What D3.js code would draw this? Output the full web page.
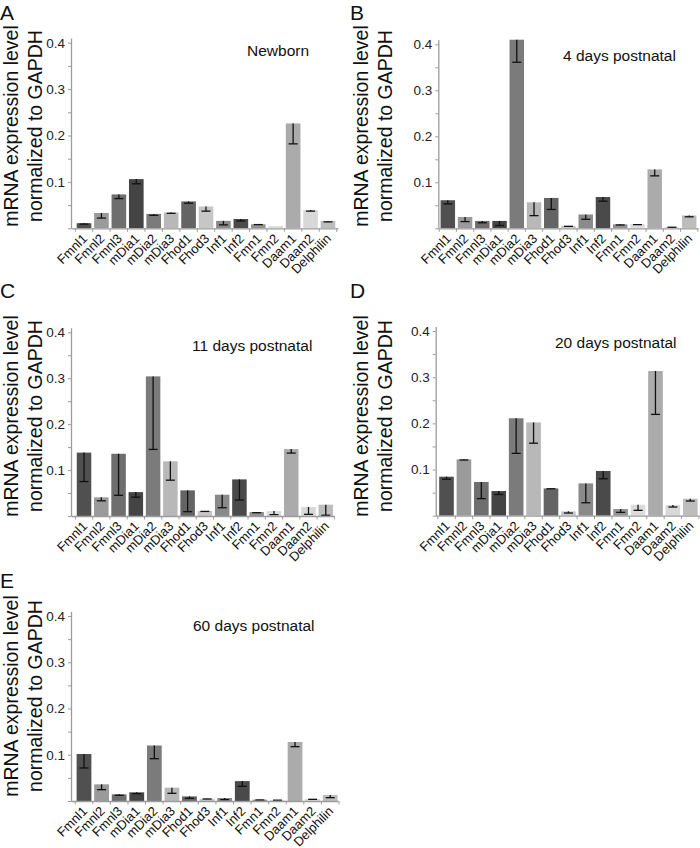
<!DOCTYPE html>
<html>
<head>
<meta charset="utf-8">
<script src="https://cdn.jsdelivr.net/npm/d3@7"></script>
<style>
  html, body { margin: 0; padding: 0; background: #fff; }
  svg { display: block; font-family: "Liberation Sans", Arial, sans-serif; }
</style>
</head>
<body>
<svg id="chart" width="700" height="848"></svg>
<script>
// ---------------- DATA ----------------
const categories = ["Fmnl1","Fmnl2","Fmnl3","mDia1","mDia2","mDia3","Fhod1","Fhod3","Inf1","Inf2","Fmn1","Fmn2","Daam1","Daam2","Delphilin"];

const panelLetters = ["A","B","C","D","E"];
const panelTitles = ["Newborn","4 days postnatal","11 days postnatal","20 days postnatal","60 days postnatal"];

const newbornValues = [0.011,0.033,0.073,0.106,0.031,0.034,0.058,0.047,0.016,0.020,0.0086,0.005,0.226,0.0395,0.016];
const newbornErrors = [0.002,0.011,0.009,0.010,0.003,0.0017,0.004,0.010,0.0086,0.0042,0.0006,0,0.044,0.0025,0.0022];

const day4Values = [0.061,0.0246,0.016,0.016,0.41,0.0565,0.066,0.005,0.030,0.068,0.0087,0.0094,0.128,0.003,0.028];
const day4Errors = [0.008,0.010,0.004,0.010,0.049,0.029,0.025,0.0007,0.0104,0.009,0.0015,0.0014,0.014,0.0007,0.003];

const day11Values = [0.138,0.0406,0.1355,0.052,0.304,0.119,0.0558,0.0109,0.0464,0.0797,0.0087,0.0109,0.1457,0.0196,0.0246];
const day11Errors = [0.063,0.0076,0.0905,0.011,0.159,0.041,0.0464,0.0009,0.0284,0.0449,0.0015,0.0079,0.0087,0.016,0.023];

const day20Values = [0.0845,0.122,0.073,0.0534,0.211,0.202,0.059,0.0094,0.070,0.0968,0.0144,0.0238,0.3134,0.023,0.0368];
const day20Errors = [0.0055,0.0014,0.036,0.0074,0.076,0.045,0.0007,0.0036,0.042,0.0168,0.0072,0.0122,0.094,0.0042,0.005];

const day60Values = [0.1016,0.036,0.0144,0.0187,0.120,0.0288,0.010,0.005,0.0065,0.043,0.0029,0.0022,0.1276,0.0043,0.013];
const day60Errors = [0.0302,0.0115,0.0021,0.0028,0.0285,0.0122,0.0042,0.0007,0.0036,0.0113,0.0007,0.0004,0.0101,0.0007,0.0058];

const majorTicks = [0.1,0.2,0.3,0.4];
const tickLabels = ["0.1","0.2","0.3","0.4"];
const minorTicks = [0,0.05,0.15,0.25,0.35];

const yLabelLines = ["mRNA expression level","normalized to GAPDH"];

// ---------------- STYLE / LAYOUT ----------------
const barColors = ["#505050","#9a9a9a","#6e6e6e","#444444","#7b7b7b","#b8b8b8","#646464","#c6c6c6","#8a8a8a","#4a4a4a","#929292","#dcdcdc","#ababab","#d8d8d8","#bdbdbd"];

const layout = [
  {ox:0,   oy:0,   left:71,    right:338, bandL:75.3,  bandR:336.7, y0:228.3, y4:42.7,  titleX:247, titleY:56,  letterY:20},
  {ox:350, oy:0,   left:438.3, right:698, bandL:439.2, bandR:697.8, y0:228.3, y4:44.3,  titleX:563, titleY:61,  letterY:20},
  {ox:0,   oy:290, left:71,    right:334, bandL:75.4,  bandR:334.4, y0:516,   y4:332.3, titleX:192, titleY:351, letterY:298},
  {ox:350, oy:290, left:435.7, right:699, bandL:437.8, bandR:699,   y0:515.7, y4:331,   titleX:555, titleY:348, letterY:298},
  {ox:0,   oy:570, left:71,    right:338, bandL:75.2,  bandR:339,   y0:801,   y4:616,   titleX:193, titleY:631, letterY:588}
];

const seriesValues = [newbornValues, day4Values, day11Values, day20Values, day60Values];
const seriesErrors = [newbornErrors, day4Errors, day11Errors, day20Errors, day60Errors];

const svg = d3.select("#chart");
const axisColor = "#9c9c9c";

panelTitles.forEach((title, p) => {
  const L = layout[p];
  const vals = seriesValues[p];
  const errs = seriesErrors[p];
  const g = svg.append("g");

  const topVal = 0.41;
  const y = d3.scaleLinear().domain([0, 0.4]).range([L.y0, L.y4]);
  const yAxisScale = d3.scaleLinear().domain([0, topVal]).range([L.y0, y(topVal)]);
  const x = d3.scaleBand().domain(categories).range([L.bandL, L.bandR]).paddingInner(0.16).paddingOuter(0.08);

  // bars
  g.selectAll("rect.bar")
    .data(categories)
    .join("rect")
    .attr("class","bar")
    .attr("x", d => x(d))
    .attr("width", x.bandwidth())
    .attr("y", (d,i) => y(Math.min(vals[i], topVal)))
    .attr("height", (d,i) => y(0) - y(Math.min(vals[i], topVal)))
    .attr("fill", (d,i) => barColors[i]);

  // error bars (downward)
  const eb = g.selectAll("g.err")
    .data(categories)
    .join("g")
    .attr("class","err");
  eb.filter((d,i) => errs[i] > 0).append("line")
    .attr("x1", d => x(d) + x.bandwidth()/2)
    .attr("x2", d => x(d) + x.bandwidth()/2)
    .attr("y1", (d) => { const i = categories.indexOf(d); return y(Math.min(vals[i], topVal)); })
    .attr("y2", (d) => { const i = categories.indexOf(d); return y(vals[i] - errs[i]); })
    .attr("stroke","#111").attr("stroke-width",1.3);
  eb.filter((d,i) => errs[i] > 0).append("line")
    .attr("x1", d => x(d) + x.bandwidth()/2 - 4.5)
    .attr("x2", d => x(d) + x.bandwidth()/2 + 4.5)
    .attr("y1", (d) => { const i = categories.indexOf(d); return y(vals[i] - errs[i]); })
    .attr("y2", (d) => { const i = categories.indexOf(d); return y(vals[i] - errs[i]); })
    .attr("stroke","#111").attr("stroke-width",1.3);

  // y axis
  const yAxis = d3.axisLeft(yAxisScale)
    .tickValues(minorTicks.concat(majorTicks))
    .tickSize(3)
    .tickSizeOuter(0)
    .tickFormat(d => { const k = majorTicks.findIndex(m => Math.abs(m - d) < 1e-9); return k >= 0 ? tickLabels[k] : ""; });
  const ya = g.append("g").attr("transform", `translate(${L.left},0)`).call(yAxis);
  ya.select(".domain").attr("stroke", axisColor).attr("stroke-width", 1.3);
  ya.selectAll(".tick line").attr("stroke", axisColor);
  ya.selectAll(".tick text").attr("fill","#222").attr("font-size","13.5px").attr("x",-6);

  // x axis line
  const xl = d3.scaleLinear().domain([0,1]).range([L.left, L.right]);
  const xa = g.append("g").attr("transform", `translate(0,${L.y0})`)
    .call(d3.axisBottom(xl).tickValues([]).tickSizeOuter(0));
  xa.select(".domain").attr("stroke", axisColor).attr("stroke-width", 1.3);

  // x tick marks between bars
  const step = x.step();
  const bounds = categories.map(c => x(c) - (step - x.bandwidth())/2).concat([x(categories[categories.length-1]) + x.bandwidth() + (step - x.bandwidth())/2]);
  g.selectAll("line.xt").data(bounds).join("line")
    .attr("x1", d => d).attr("x2", d => d)
    .attr("y1", L.y0).attr("y2", L.y0 + 3.5)
    .attr("stroke", axisColor).attr("stroke-width", 1);

  // category labels
  g.selectAll("text.cat").data(categories).join("text")
    .attr("class","cat")
    .attr("transform", d => `translate(${x(d) + x.bandwidth()/2 + 4},${L.y0 + 11}) rotate(-45)`)
    .attr("text-anchor","end")
    .attr("font-size","13px")
    .attr("fill","#111")
    .text(d => d);

  // y label
  const yl = g.append("text")
    .attr("transform", `translate(${L.ox + 18},${L.oy + 126}) rotate(-90)`)
    .attr("text-anchor","middle")
    .attr("font-size","19.5px")
    .attr("fill","#111");
  yl.selectAll("tspan").data(yLabelLines).join("tspan")
    .attr("x", 0)
    .attr("dy", (d,i) => i === 0 ? 0 : 23.5)
    .text(d => d);

  // title
  g.append("text")
    .attr("x", L.titleX).attr("y", L.titleY)
    .attr("font-size","15.5px").attr("fill","#111")
    .text(title);

  // panel letter
  g.append("text")
    .attr("x", L.ox).attr("y", L.letterY)
    .attr("font-size","21px").attr("fill","#111")
    .text(panelLetters[p]);
});
</script>
</body>
</html>
